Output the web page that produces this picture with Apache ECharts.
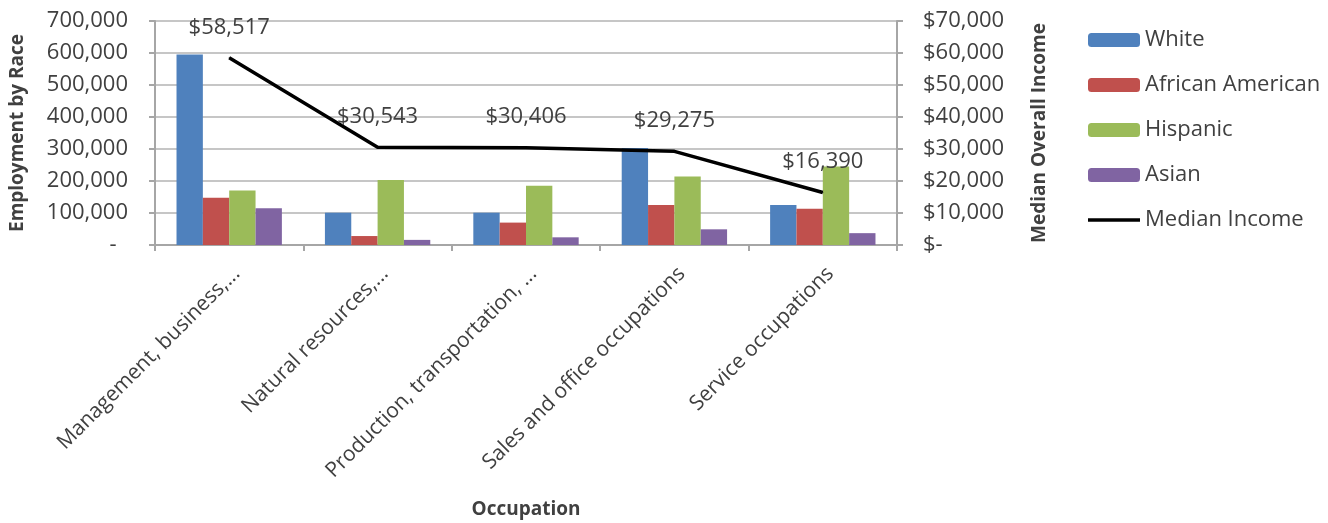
<!DOCTYPE html>
<html>
<head>
<meta charset="utf-8">
<script src="https://cdn.jsdelivr.net/npm/echarts@6/dist/echarts.min.js"></script>
<style>
html,body{margin:0;padding:0;background:#fff;}
#c{width:1328px;height:523px;}
</style>
</head>
<body>
<div id="c"></div>
<script>
const categories = ['Management, business,...', 'Natural resources,...', 'Production, transportation, ...', 'Sales and office occupations', 'Service occupations'];
const white = [595000, 101000, 101000, 303000, 125000];
const africanAmerican = [148000, 28000, 70000, 125000, 113000];
const hispanic = [170000, 203000, 185000, 214000, 245000];
const asian = [115000, 16000, 24000, 49000, 37000];
const medianIncome = [58517, 30543, 30406, 29275, 16390];

const FONT = 'Open Sans';
const TXT = '#404040';
const fmtNum = v => v === 0 ? '-  ' : v.toLocaleString('en-US');
const fmtUsd = v => v === 0 ? '$-' : '$' + v.toLocaleString('en-US');

const chart = echarts.init(document.getElementById('c'));
const barSeries = (name, data, color) => ({
  name, type: 'bar', data, yAxisIndex: 0,
  barGap: '0%', barCategoryGap: '29%',
  itemStyle: { color }
});
chart.setOption({
  animation: false,
  textStyle: { fontFamily: FONT, color: TXT },
  grid: { left: 155, right: 431, top: 21, bottom: 278, containLabel: false },
  legend: {
    orient: 'vertical', left: 1083, top: 24,
    itemWidth: 52, itemHeight: 14, itemGap: 23, itemTextGap: 3,
    textStyle: { fontFamily: FONT, fontSize: 22, color: TXT },
    data: [
      { name: 'White' },
      { name: 'African American' },
      { name: 'Hispanic' },
      { name: 'Asian' },
      { name: 'Median Income', icon: 'path://M0,0L52,0L52,3.5L0,3.5Z' }
    ]
  },
  xAxis: {
    type: 'category', data: categories,
    name: 'Occupation', nameLocation: 'middle', nameGap: 255,
    nameTextStyle: { fontFamily: FONT, fontSize: 19, fontWeight: 'bold', color: TXT },
    axisLine: { lineStyle: { color: '#a6a6a6', width: 2 } },
    axisTick: { show: true, length: 6, lineStyle: { color: '#a6a6a6', width: 2 } },
    axisLabel: { rotate: 45, margin: 18, fontFamily: FONT, fontSize: 21, color: TXT, verticalAlign: 'top', interval: 0 }
  },
  yAxis: [
    {
      type: 'value', min: 0, max: 700000, interval: 100000, position: 'left',
      name: 'Employment by Race', nameLocation: 'middle', nameGap: 128,
      nameTextStyle: { fontFamily: FONT, fontSize: 19, fontWeight: 'bold', color: TXT },
      axisLine: { show: true, lineStyle: { color: '#a6a6a6', width: 2 } },
      axisTick: { show: true, length: 6, lineStyle: { color: '#a6a6a6', width: 2 } },
      axisLabel: { margin: 27, fontFamily: FONT, fontSize: 22, color: TXT, formatter: fmtNum },
      splitLine: { show: true, lineStyle: { color: '#c6c6c6', width: 2 } }
    },
    {
      type: 'value', min: 0, max: 70000, interval: 10000, position: 'right',
      name: 'Median Overall Income', nameLocation: 'middle', nameGap: 133,
      nameTextStyle: { fontFamily: FONT, fontSize: 19, fontWeight: 'bold', color: TXT },
      axisLine: { show: true, lineStyle: { color: '#a6a6a6', width: 2 } },
      axisTick: { show: true, length: 6, lineStyle: { color: '#a6a6a6', width: 2 } },
      axisLabel: { margin: 26, fontFamily: FONT, fontSize: 22, color: TXT, formatter: fmtUsd },
      splitLine: { show: false }
    }
  ],
  series: [
    barSeries('White', white, '#4f81bd'),
    barSeries('African American', africanAmerican, '#c0504d'),
    barSeries('Hispanic', hispanic, '#9bbb59'),
    barSeries('Asian', asian, '#8064a2'),
    {
      name: 'Median Income', type: 'line', data: medianIncome, yAxisIndex: 1,
      symbol: 'circle', symbolSize: 1, showSymbol: true,
      lineStyle: { color: '#000', width: 3.5 }, itemStyle: { color: '#000' },
      label: { show: true, position: 'top', distance: 19, fontFamily: FONT, fontSize: 22, color: TXT, formatter: p => fmtUsd(p.value) },
      labelLayout: { hideOverlap: false },
      z: 5
    }
  ]
});
</script>
</body>
</html>
